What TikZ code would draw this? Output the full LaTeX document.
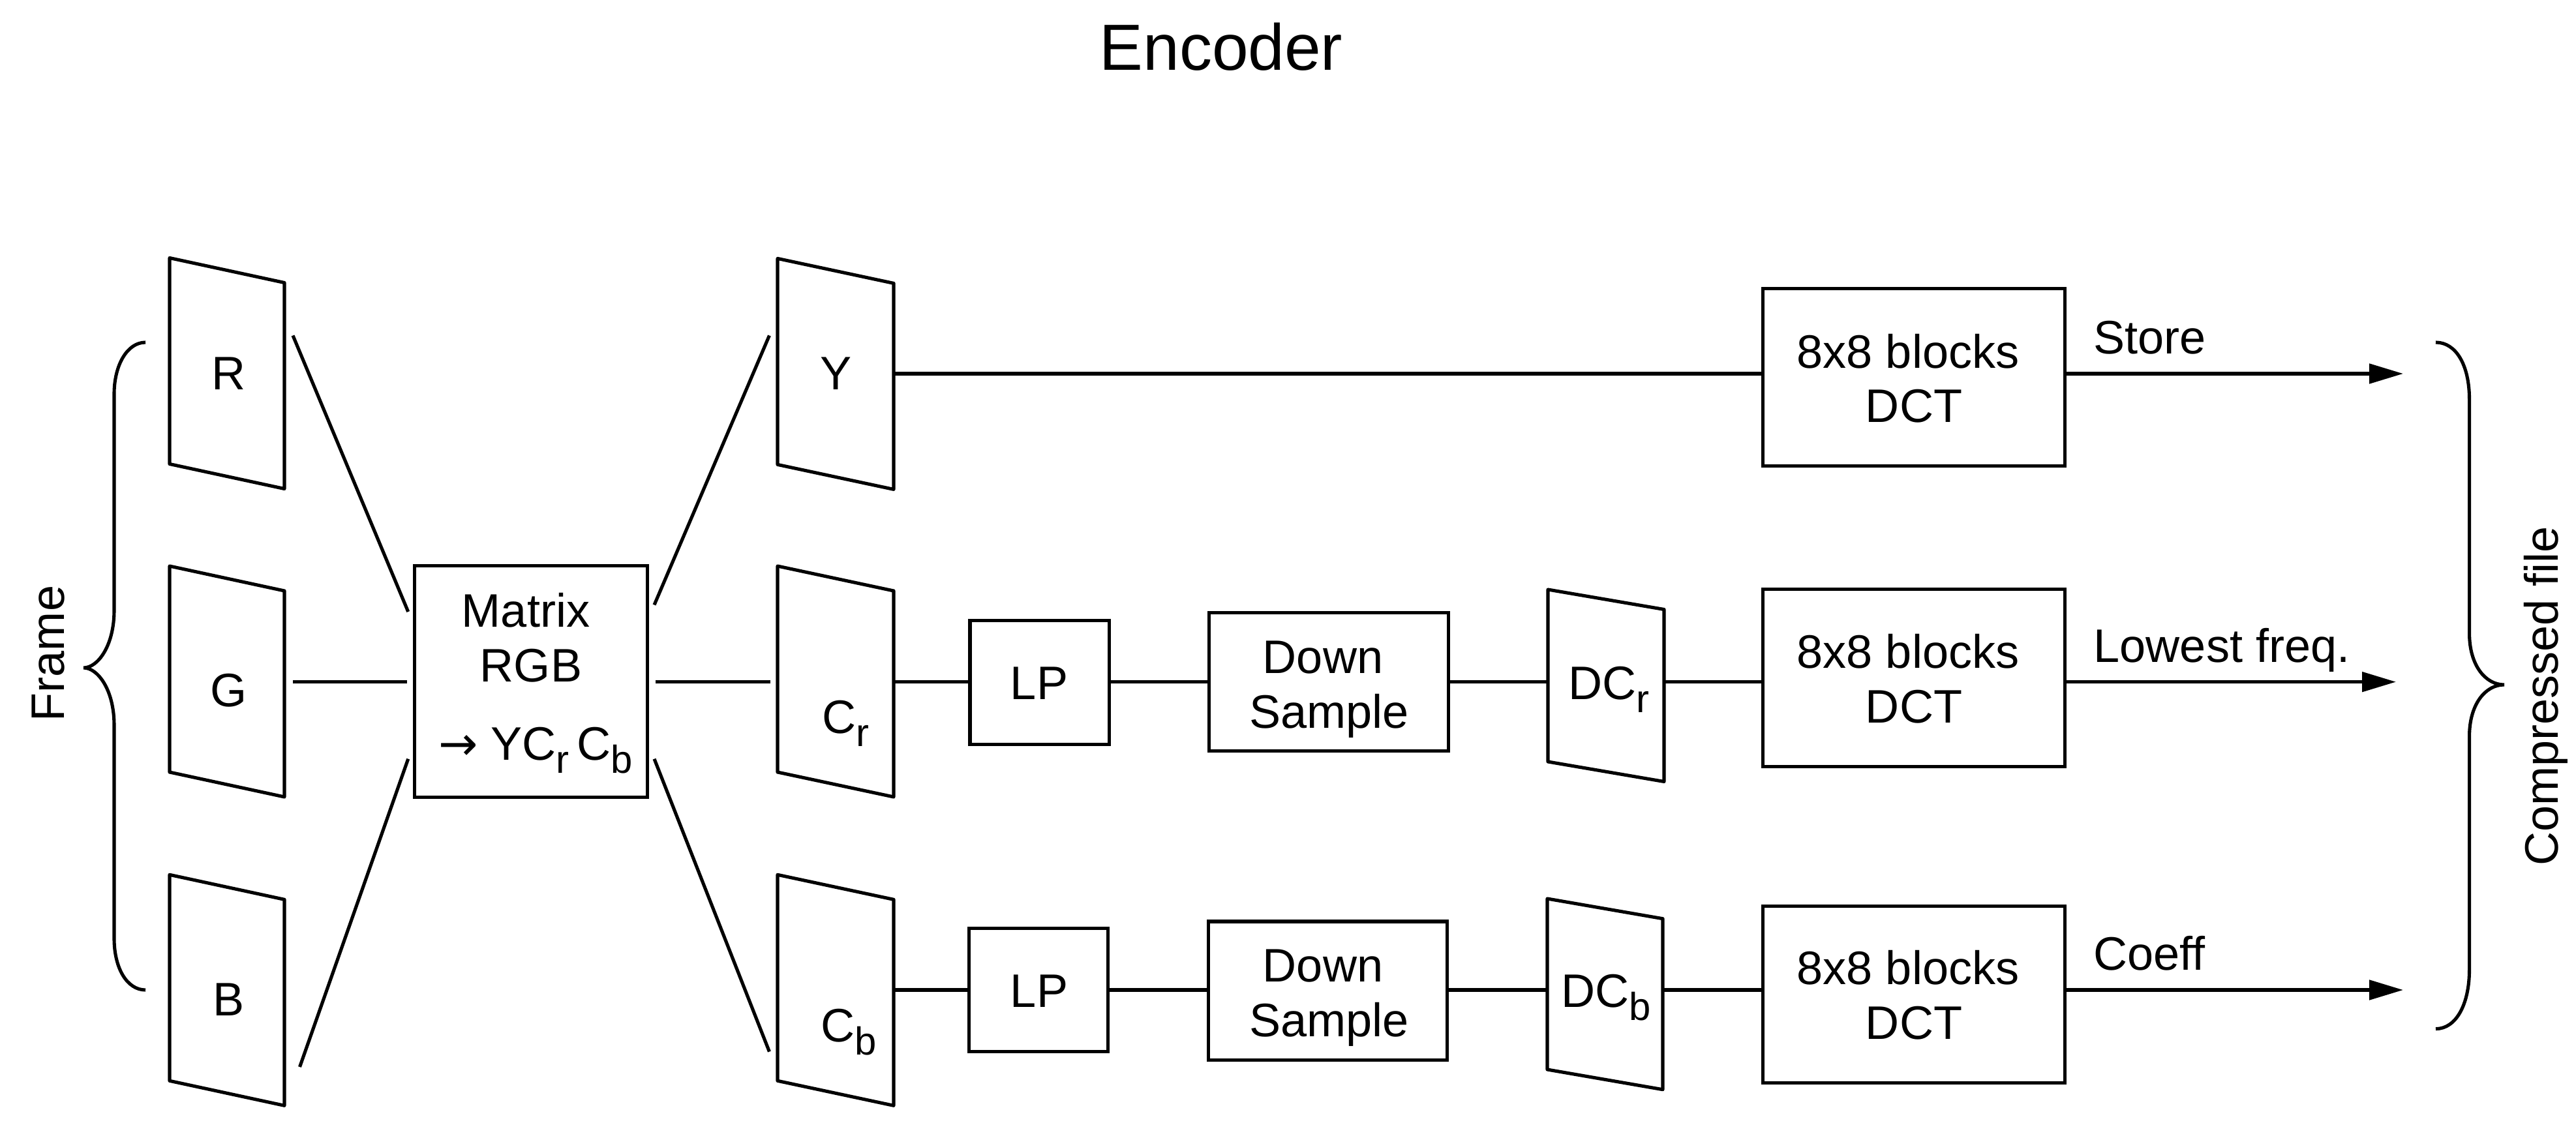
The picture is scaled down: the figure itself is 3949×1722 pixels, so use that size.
\documentclass[tikz,border=0pt]{standalone}
\usepackage{fontspec}
\setmainfont{Liberation Sans}
\newfontfamily\arrowfont{DejaVu Sans}
\usetikzlibrary{arrows.meta}
\newcommand\sbs[1]{\raisebox{-0.2cm}{\fontsize{17pt}{17pt}\selectfont #1}}
\newcommand\mypara[6]{% name, xl, xr, ytl, h, s
  \draw[blk] (#2,#4) -- (#3,#4+#6) -- (#3,#4+#6+#5) -- (#2,#4+#5) -- cycle;
  \coordinate (#1) at ({(#2+#3)/2},{#4+(#5+#6)/2});}
\tikzset{
  lbl/.style={font=\fontsize{20.5pt}{23.9pt}\selectfont, inner sep=0pt, align=center},
  blk/.style={draw, line width=1.45pt, line join=round},
  box/.style={draw, line width=1.45pt, inner sep=0pt},
  wire/.style={line width=1.45pt},
  arr/.style={wire, -{Triangle[length=0.52cm,width=0.3cm]}},
}
\begin{document}
\begin{tikzpicture}[x=0.01cm,y=-0.01cm]
\useasboundingbox (0,0) rectangle (3949,1722);

% title
\node[lbl, font=\fontsize{28.45pt}{34pt}\selectfont, anchor=base] (title) at (1872,108) {Encoder};

% input planes
\mypara{pR}{260}{436}{395.5}{316}{38}
\mypara{pG}{260}{436}{868}{316}{38}
\mypara{pB}{260}{436}{1341.3}{316}{38}
\node[lbl, anchor=base] (tR) at (351,597.6) {R};
\node[lbl, anchor=base] (tG) at (351,1083.5) {G};
\node[lbl, anchor=base] (tB) at (351,1557.5) {B};

% left brace
\draw[wire] (223,525) .. controls (195,525) and (175,560) .. (175,604)
  -- (175,936) .. controls (175,990) and (150,1024) .. (128,1024)
  .. controls (150,1024) and (175,1058) .. (175,1112)
  -- (175,1439) .. controls (175,1485) and (195,1518) .. (223,1518);
\node[lbl, rotate=90] (frame) at (74,1002) {Frame};

% matrix
\node[box, minimum width=3.56cm, minimum height=3.54cm] (mat) at (814,1045) {};
\node[lbl, anchor=base] (m1) at (806,961) {Matrix};
\node[lbl, anchor=base] (m2) at (814,1045) {RGB};
\node[lbl, anchor=base] (m3) at (821,1165) {{\arrowfont →} YC\sbs{r}\,C\sbs{b}};

% connectors into matrix
\coordinate (aR1) at (449,514.5);  \coordinate (aR2) at (625.7,938);
\coordinate (aG1) at (449,1045.6); \coordinate (aG2) at (624,1045.6);
\coordinate (aB1) at (459.5,1636); \coordinate (aB2) at (625.7,1163.7);
\draw[wire] (aR1) -- (aR2);
\draw[wire] (aG1) -- (aG2);
\draw[wire] (aB1) -- (aB2);

% connectors out of matrix
\coordinate (bY1) at (1003,927.5);   \coordinate (bY2) at (1179.4,514.5);
\coordinate (bC1) at (1004.6,1045.6); \coordinate (bC2) at (1181.3,1045.6);
\coordinate (bB1) at (1003,1163.7);  \coordinate (bB2) at (1179.4,1612.6);
\draw[wire] (bY1) -- (bY2);
\draw[wire] (bC1) -- (bC2);
\draw[wire] (bB1) -- (bB2);

% component planes
\mypara{pY}{1192}{1370}{396.4}{316}{38}
\mypara{pCr}{1192}{1370}{868}{316}{38}
\mypara{pCb}{1192}{1370}{1341.3}{316}{38}
\node[lbl, anchor=base] (tY) at (1282,597) {Y};
\node[lbl, anchor=base] (tCr) at (1296,1124) {C\sbs{r}};
\node[lbl, anchor=base] (tCb) at (1301,1597) {C\sbs{b}};

% row coordinates
\coordinate (row1) at (0,573);
\coordinate (row2) at (0,1045.6);
\coordinate (row3) at (0,1518);

% boxes
\node[box, minimum width=2.13cm, minimum height=1.89cm] (lp1) at (1593.5,1046.5) {};
\node[box, minimum width=3.66cm, minimum height=2.115cm] (dn1) at (2037,1045.75) {};
\node[box, minimum width=2.13cm, minimum height=1.89cm] (lp2) at (1592,1518) {};
\node[box, minimum width=3.65cm, minimum height=2.12cm] (dn2) at (2035.5,1519) {};
\node[box, minimum width=4.62cm, minimum height=2.72cm] (dct1) at (2934,578.8) {};
\node[box, minimum width=4.62cm, minimum height=2.71cm] (dct2) at (2934,1039.5) {};
\node[box, minimum width=4.62cm, minimum height=2.71cm] (dct3) at (2934,1525) {};

\node[lbl, anchor=base] (tlp1) at (1593,1072) {LP};
\node[lbl, anchor=base] (tlp2) at (1593,1544.5) {LP};
\node[lbl, anchor=base] (td1a) at (2028,1032) {Down};
\node[lbl, anchor=base] (td1b) at (2037.5,1116) {Sample};
\node[lbl, anchor=base] (td2a) at (2028,1505) {Down};
\node[lbl, anchor=base] (td2b) at (2037.5,1589) {Sample};

\foreach \n/\b in {1/564, 2/1024, 3/1509.5}{
  \node[lbl, anchor=base] (tdcta\n) at (2925,\b) {8x8 blocks};
  \node[lbl, anchor=base] (tdctb\n) at (2934,\b+84) {DCT};
}

% DC planes
\mypara{pDCr}{2373}{2551}{904}{264}{30.5}
\mypara{pDCb}{2372}{2549}{1378}{262}{30.7}
\node[lbl, anchor=base] (tDCr) at (2466,1072) {DC\sbs{r}};
\node[lbl, anchor=base] (tDCb) at (2462,1544.5) {DC\sbs{b}};

% row 1
\draw[wire] (1370,573) -- (dct1.west |- row1);
% row 2
\draw[wire] (1370,1045.6) -- (lp1.west |- row2);
\draw[wire] (lp1.east |- row2) -- (dn1.west |- row2);
\draw[wire] (dn1.east |- row2) -- (2373,1045.6);
\draw[wire] (2551,1045.6) -- (dct2.west |- row2);
% row 3
\draw[wire] (1370,1518) -- (lp2.west |- row3);
\draw[wire] (lp2.east |- row3) -- (dn2.west |- row3);
\draw[wire] (dn2.east |- row3) -- (2372,1518);
\draw[wire] (2549,1518) -- (dct3.west |- row3);

% outputs
\coordinate (o1) at (3684,573);
\coordinate (o2) at (3673,1045.6);
\coordinate (o3) at (3684,1518);
\draw[arr] (dct1.east |- row1) -- (o1);
\draw[arr] (dct2.east |- row2) -- (o2);
\draw[arr] (dct3.east |- row3) -- (o3);
\node[lbl, anchor=base west] (lst) at (3209,542.5) {Store};
\node[lbl, anchor=base west] (llf) at (3209,1015) {Lowest freq.};
\node[lbl, anchor=base west] (lco) at (3209,1487.5) {Coeff};

% right brace
\draw[wire] (3734,525) .. controls (3765,525) and (3785.5,560) .. (3785.5,612)
  -- (3785.5,971) .. controls (3785.5,1020) and (3810,1050) .. (3839,1050)
  .. controls (3810,1050) and (3785.5,1080) .. (3785.5,1129)
  -- (3785.5,1487) .. controls (3785.5,1540) and (3765,1577.6) .. (3734,1577.6);
\node[lbl, rotate=90] (cf) at (3903,1067.5) {Compressed file};
\end{tikzpicture}
\end{document}
